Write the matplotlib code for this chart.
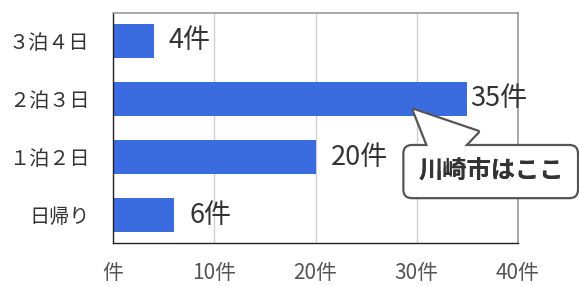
import matplotlib
matplotlib.use("Agg")
import matplotlib.pyplot as plt

plt.rcParams['font.family'] = ['Noto Sans CJK JP', 'DejaVu Sans']

categories = ["日帰り", "１泊２日", "２泊３日", "３泊４日"]
counts = [6, 20, 35, 4]
xticks = [0, 10, 20, 30, 40]
xtick_labels = ["件", "10件", "20件", "30件", "40件"]
callout_text = "川崎市はここ"

# label gap (points) after each bar end
label_gap = [11, 11, 2, 11]

fig = plt.figure(figsize=(5.79, 2.86), dpi=100)
ax = fig.add_axes([0.1952, 0.1503, 0.6995, 0.8042])

ypos = list(range(len(categories)))
ax.barh(ypos, counts, height=0.59, color="#3a6ce0", zorder=2)

for y, v, g in zip(ypos, counts, label_gap):
    ax.annotate(f"{v}件", xy=(v, y), xytext=(g, 0), textcoords="offset points",
                va="center", ha="left", fontsize=19.5, color="#333333", zorder=4,
                annotation_clip=False)

ax.set_xlim(0, 40)
ax.set_ylim(-0.48, 3.48)
ax.set_xticks(xticks)
ax.set_xticklabels(xtick_labels, fontsize=15, color="#555555")
ax.set_yticks(ypos)
ax.set_yticklabels(categories, fontsize=14.5, color="#333333")
ax.tick_params(axis="x", length=0, pad=14)
ax.tick_params(axis="y", length=0, pad=17)

ax.grid(axis="x", color="#d0d0d0", linewidth=1, zorder=0)
ax.set_axisbelow(True)
for side in ["top", "right"]:
    ax.spines[side].set_color("#999999")
    ax.spines[side].set_linewidth(1.2)
for side in ["left", "bottom"]:
    ax.spines[side].set_color("#222222")
    ax.spines[side].set_linewidth(1.0)

# callout: tail outline below the box, box, tail fill over the box edge, text
tip = (29.7, 1.81)
tail_base = (34.1, 1.08)
box_center = (37.3, 0.75)
edge = "#555555"
wedge = "wedge,tail_width=2.05,shrink_factor=0.5"

ax.annotate("", xy=tip, xytext=tail_base,
            arrowprops=dict(arrowstyle=wedge, fc="white", ec=edge, lw=3.2,
                            mutation_scale=20, shrinkA=0, shrinkB=0),
            annotation_clip=False, zorder=5)
ax.text(*box_center, callout_text, ha="center", va="center",
        fontsize=17.5, fontweight="bold", color="#333333", zorder=6, clip_on=False,
        bbox=dict(boxstyle="round,pad=0.6,rounding_size=0.35",
                  fc="white", ec=edge, lw=1.6))
ax.annotate("", xy=tip, xytext=tail_base,
            arrowprops=dict(arrowstyle=wedge, fc="white", ec="none", lw=0,
                            mutation_scale=20, shrinkA=0, shrinkB=0),
            annotation_clip=False, zorder=7)
ax.text(*box_center, callout_text, ha="center", va="center",
        fontsize=17.5, fontweight="bold", color="#333333", zorder=8, clip_on=False)

fig.savefig("out.png", dpi=100)
